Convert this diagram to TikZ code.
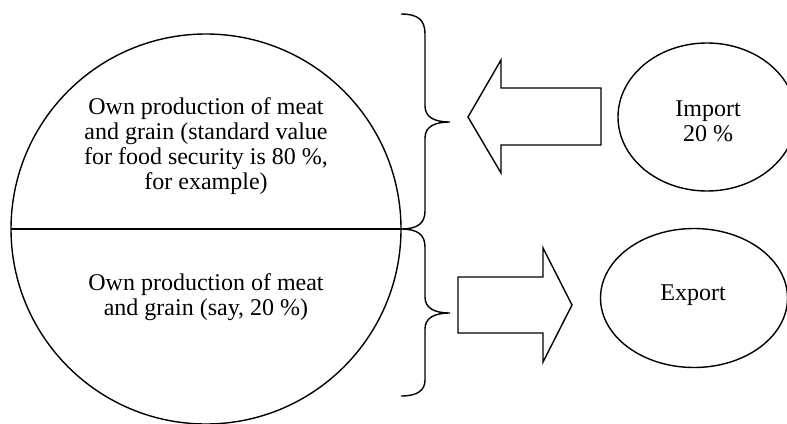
\documentclass[tikz,border=0pt]{standalone}
\usepackage{fontspec}
\setmainfont{Liberation Serif}
\usetikzlibrary{shapes.geometric}
\begin{document}
\begin{tikzpicture}[x=1pt,y=-1pt,
  line/.style={draw=black,line width=1.4pt,line join=miter},
  txt/.style={align=center,font=\fontsize{24}{25}\selectfont,inner sep=0pt}]
\useasboundingbox (0,0) rectangle (787,423);
% main circle with diameter
\draw[line] (206,229) circle[radius=195];
\coordinate (cl) at (11,229);
\coordinate (cr) at (401,229);
\draw[line] (cl) -- (cr);
% texts in circle
\node[txt] (own1) at (206,146) {Own production of meat\\and grain (standard value\\for food security is 80 \%,\\for example)};
\node[txt] (own2) at (206,297) {Own production of meat\\and grain (say, 20 \%)};
% upper brace
\coordinate (ub1) at (401,14);
\coordinate (ubt) at (450,122);
\draw[line] (ub1) .. controls (418,14) and (425,20) .. (425,34)
  -- (425,106) .. controls (425,117) and (434,122) .. (ubt)
  .. controls (434,122) and (425,127) .. (425,138)
  -- (425,211) .. controls (425,223) and (418,229) .. (cr);
% lower brace
\coordinate (lb2) at (401,396);
\coordinate (lbt) at (450,313);
\draw[line] (cr) .. controls (418,229) and (425,235) .. (425,247)
  -- (425,297) .. controls (425,308) and (434,313) .. (lbt)
  .. controls (434,313) and (425,318) .. (425,329)
  -- (425,380) .. controls (425,390) and (418,396) .. (lb2);
% import arrow
\draw[line] (468,117) -- (501,60) -- (501,88) -- (601,88) -- (601,145) -- (501,145) -- (501,173) -- cycle;
% export arrow
\draw[line] (458,277) -- (543,277) -- (543,248) -- (572,305) -- (543,362) -- (543,333) -- (458,333) -- cycle;
% ellipses
\node[line,ellipse,minimum width=178pt,minimum height=148pt,inner sep=0pt] (imp) at (707,117) {};
\node[txt] (impt) at (708,121) {Import\\20 \%};
\node[line,ellipse,minimum width=187pt,minimum height=139pt,inner sep=0pt] (exp) at (694,298) {};
\node[txt] (expt) at (693,295) {Export};
\end{tikzpicture}
\end{document}
